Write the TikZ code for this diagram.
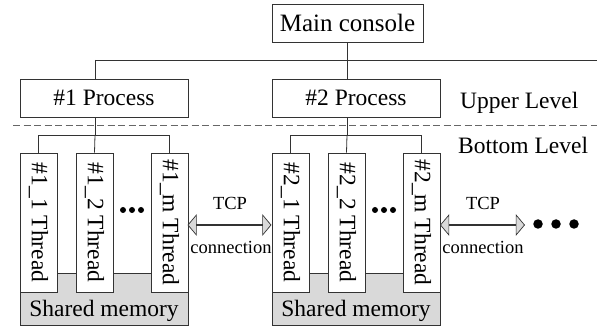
\documentclass[tikz,border=0pt]{standalone}
\usepackage{fontspec}
\setmainfont{Liberation Serif}
\usetikzlibrary{shapes.arrows}
\begin{document}
\begin{tikzpicture}[x=1pt,y=-1pt,
  line/.style={draw=black!80, line width=0.8pt},
  box/.style={line, fill=white, inner sep=0pt},
  label/.style={font=\fontsize{23.5}{26}\selectfont, inner sep=0pt},
  small/.style={font=\fontsize{18.5}{21}\selectfont, inner sep=0pt},
  memfill/.style={line, fill=black!15},
  thread/.style={box, label, minimum width=139pt, minimum height=37pt,
    rotate=-90, anchor=center},
  tcp/.style={double arrow, draw=black!80, line width=0.7pt, fill=black!15,
    double arrow head extend=7pt, minimum width=20pt, double arrow tip angle=100,
    inner sep=0pt},
  dot/.style={circle, fill=black, inner sep=0pt}]
\useasboundingbox (0,0) rectangle (597,328);

% top level
\node[box, minimum width=151pt, minimum height=38pt, font=\fontsize{25}{28}\selectfont] (main) at (347.5,23) {Main console};
\node[box, minimum width=168pt, minimum height=38pt, label] (p1) at (104,98) {\#1 Process};
\node[box, minimum width=168pt, minimum height=38pt, label] (p2) at (356,98) {\#2 Process};

\coordinate (bus1) at (95,60);
\coordinate (busend) at (597,60);
\draw[line] (bus1) -- (busend);
\draw[line] (bus1) -- (bus1 |- p1.north);
\draw[line] (main.south) -- (main.south |- p2.north);

% level separator
\coordinate (dashL) at (13,126);
\coordinate (dashR) at (597,126);
\draw[draw=black!60, line width=1pt, dash pattern=on 7pt off 3.5pt] (dashL) -- (dashR);
\node[label, anchor=west] (upper) at (460,103) {Upper Level};
\node[label, anchor=west] (bottom) at (458,145) {Bottom Level};

% shared memory blocks
\draw[memfill] (20,273) rectangle (188,325);
\node[label] (mem1) at (104,311) {Shared memory};
\draw[memfill] (272,273) rectangle (440,325);
\node[label] (mem2) at (356,311) {Shared memory};

% thread boxes
\foreach \g/\off in {1/0, 2/252} {
  \node[thread] (t\g a) at (38.5+\off,222.5) {\#\g\_1 Thread};
  \node[thread] (t\g b) at (94.5+\off,222.5) {\#\g\_2 Thread};
  \node[thread] (t\g c) at (169.5+\off,222.5) {\#\g\_m Thread};
  \node[dot, minimum size=6pt] (d\g a) at (123+\off,210) {};
  \node[dot, minimum size=6pt] (d\g b) at (132+\off,210) {};
  \node[dot, minimum size=6pt] (d\g c) at (141+\off,210) {};
}

% process to thread tree
\coordinate (br1) at (95,135);
\coordinate (br2) at (347,135);
\draw[line] (br1) -- (br1 |- p1.south);
\draw[line] (t1a.west) -- (t1a.west |- br1) -- (t1c.west |- br1) -- (t1c.west);
\draw[line] (br1) -- (t1b.west);
\draw[line] (br2) -- (br2 |- p2.south);
\draw[line] (t2a.west) -- (t2a.west |- br2) -- (t2c.west |- br2) -- (t2c.west);
\draw[line] (br2) -- (t2b.west);

% TCP links
\node[tcp, minimum height=83pt] (a1) at (229.5,225) {};
\node[small] (tcp1) at (230,203) {TCP};
\node[small] (con1) at (231,247) {connection};
\node[tcp, minimum height=84pt] (a2) at (482.5,225) {};
\node[small] (tcp2) at (483,203) {TCP};
\node[small] (con2) at (483,247) {connection};

\node[dot, minimum size=9.5pt] (e1) at (538,224) {};
\node[dot, minimum size=9.5pt] (e2) at (556,224) {};
\node[dot, minimum size=9.5pt] (e3) at (574,224) {};
\end{tikzpicture}
\end{document}
